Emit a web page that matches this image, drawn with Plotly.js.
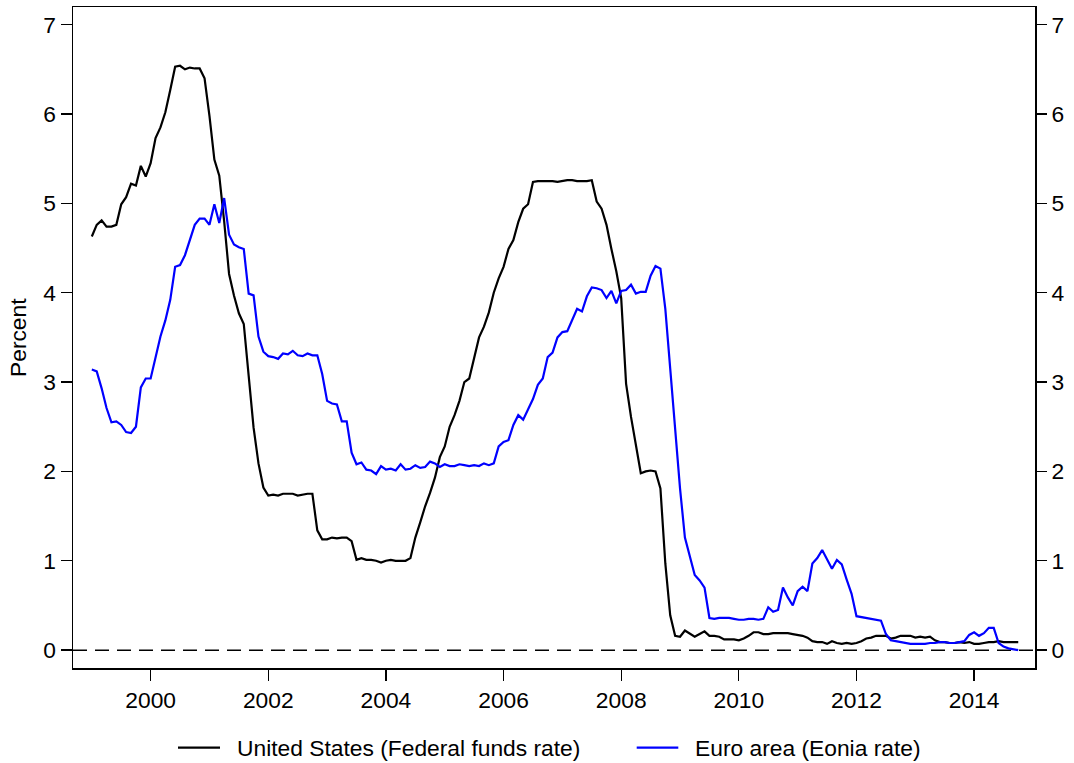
<!DOCTYPE html>
<html>
<head>
<meta charset="utf-8">
<script src="https://cdn.plot.ly/plotly-3.0.1.min.js"></script>
<style>
  html, body { margin: 0; padding: 0; background: #fff; }
  #chart { width: 1074px; height: 763px; }
</style>
</head>
<body>
<div id="chart"></div>
<script>
// Monthly observations, January 1999 to October 2014
const startYear = 1999;
const usName = 'United States (Federal funds rate)';
const euName = 'Euro area (Eonia rate)';
const yTitle = 'Percent';
const xTickVals = [2000, 2002, 2004, 2006, 2008, 2010, 2012, 2014];
const yTickVals = [0, 1, 2, 3, 4, 5, 6, 7];

const fedFunds = [
  4.63, 4.76, 4.81, 4.74, 4.74, 4.76, 4.99, 5.07, 5.22, 5.20, 5.42, 5.30, // 1999
  5.45, 5.73, 5.85, 6.02, 6.27, 6.53, 6.54, 6.50, 6.52, 6.51, 6.51, 6.40, // 2000
  5.98, 5.49, 5.31, 4.80, 4.21, 3.97, 3.77, 3.65, 3.07, 2.49, 2.09, 1.82, // 2001
  1.73, 1.74, 1.73, 1.75, 1.75, 1.75, 1.73, 1.74, 1.75, 1.75, 1.34, 1.24, // 2002
  1.24, 1.26, 1.25, 1.26, 1.26, 1.22, 1.01, 1.03, 1.01, 1.01, 1.00, 0.98, // 2003
  1.00, 1.01, 1.00, 1.00, 1.00, 1.03, 1.26, 1.43, 1.61, 1.76, 1.93, 2.16, // 2004
  2.28, 2.50, 2.63, 2.79, 3.00, 3.04, 3.26, 3.50, 3.62, 3.78, 4.00, 4.16, // 2005
  4.29, 4.49, 4.59, 4.79, 4.94, 4.99, 5.24, 5.25, 5.25, 5.25, 5.25, 5.24, // 2006
  5.25, 5.26, 5.26, 5.25, 5.25, 5.25, 5.26, 5.02, 4.94, 4.76, 4.49, 4.24, // 2007
  3.94, 2.98, 2.61, 2.28, 1.98, 2.00, 2.01, 2.00, 1.81, 0.97, 0.39, 0.16, // 2008
  0.15, 0.22, 0.18, 0.15, 0.18, 0.21, 0.16, 0.16, 0.15, 0.12, 0.12, 0.12, // 2009
  0.11, 0.13, 0.16, 0.20, 0.20, 0.18, 0.18, 0.19, 0.19, 0.19, 0.19, 0.18, // 2010
  0.17, 0.16, 0.14, 0.10, 0.09, 0.09, 0.07, 0.10, 0.08, 0.07, 0.08, 0.07, // 2011
  0.08, 0.10, 0.13, 0.14, 0.16, 0.16, 0.16, 0.13, 0.14, 0.16, 0.16, 0.16, // 2012
  0.14, 0.15, 0.14, 0.15, 0.11, 0.09, 0.09, 0.08, 0.08, 0.09, 0.08, 0.09, // 2013
  0.07, 0.07, 0.08, 0.09, 0.09, 0.10, 0.09, 0.09, 0.09, 0.09              // 2014
];

const eonia = [
  3.14, 3.12, 2.93, 2.71, 2.55, 2.56, 2.52, 2.44, 2.43, 2.50, 2.94, 3.04, // 1999
  3.04, 3.28, 3.51, 3.69, 3.92, 4.29, 4.31, 4.42, 4.59, 4.76, 4.83, 4.83, // 2000
  4.76, 4.99, 4.78, 5.06, 4.65, 4.54, 4.51, 4.49, 3.99, 3.97, 3.51, 3.34, // 2001
  3.29, 3.28, 3.26, 3.32, 3.31, 3.35, 3.30, 3.29, 3.32, 3.30, 3.30, 3.09, // 2002
  2.79, 2.76, 2.75, 2.56, 2.56, 2.21, 2.08, 2.10, 2.02, 2.01, 1.97, 2.06, // 2003
  2.02, 2.03, 2.01, 2.08, 2.02, 2.03, 2.07, 2.04, 2.05, 2.11, 2.09, 2.05, // 2004
  2.08, 2.06, 2.06, 2.08, 2.07, 2.06, 2.07, 2.06, 2.09, 2.07, 2.09, 2.28, // 2005
  2.33, 2.35, 2.52, 2.63, 2.58, 2.70, 2.81, 2.97, 3.04, 3.28, 3.33, 3.50, // 2006
  3.56, 3.57, 3.69, 3.82, 3.79, 3.96, 4.06, 4.05, 4.03, 3.94, 4.02, 3.88, // 2007
  4.02, 4.03, 4.09, 3.99, 4.01, 4.01, 4.19, 4.30, 4.27, 3.82, 3.15, 2.49, // 2008
  1.81, 1.26, 1.06, 0.84, 0.78, 0.70, 0.36, 0.35, 0.36, 0.36, 0.36, 0.35, // 2009
  0.34, 0.34, 0.35, 0.35, 0.34, 0.35, 0.48, 0.43, 0.45, 0.70, 0.59, 0.50, // 2010
  0.66, 0.71, 0.66, 0.97, 1.03, 1.12, 1.01, 0.91, 1.01, 0.96, 0.79, 0.63, // 2011
  0.38, 0.37, 0.36, 0.35, 0.34, 0.33, 0.18, 0.11, 0.10, 0.09, 0.08, 0.07, // 2012
  0.07, 0.07, 0.07, 0.08, 0.08, 0.09, 0.09, 0.08, 0.08, 0.09, 0.10, 0.17, // 2013
  0.20, 0.16, 0.19, 0.25, 0.25, 0.08, 0.04, 0.02, 0.01, 0.00              // 2014
];

// month positions as decimal years
const months = fedFunds.map((_, i) => startYear + i / 12);

const FONT = 'Liberation Sans, Arial, Helvetica, sans-serif';
const FS = 22.8;

const traces = [
  { x: months, y: fedFunds, name: usName, type: 'scatter', mode: 'lines',
    line: { color: '#000000', width: 2.2 }, hoverinfo: 'x+y' },
  { x: months, y: eonia, name: euName, type: 'scatter', mode: 'lines',
    line: { color: '#0000ff', width: 2.2 }, hoverinfo: 'x+y' },
  { x: [null], y: [null], yaxis: 'y2', type: 'scatter', mode: 'lines',
    showlegend: false, hoverinfo: 'skip' }
];

const W = 1074, H = 763;
const mL = 73, mR = 39, mT = 7, mB = 95;
const pw = W - mL - mR, ph = H - mT - mB;
const px = v => (v - mL) / pw;
const py = v => (H - mB - v) / ph;

const yRange = [-0.2, 7.198];

const axisCommon = {
  showgrid: false, zeroline: false,
  ticks: 'outside', ticklen: 11, tickwidth: 1.3, tickcolor: '#000',
  tickfont: { family: FONT, size: FS, color: '#000' }
};

const legendY = py(747.7);

const layout = {
  width: W, height: H,
  margin: { l: mL, r: mR, t: mT, b: mB, pad: 0 },
  paper_bgcolor: '#fff', plot_bgcolor: '#fff',
  font: { family: FONT, size: FS, color: '#000' },
  showlegend: false,
  xaxis: Object.assign({}, axisCommon, {
    range: [1998.68, 2015.035], tickmode: 'array', tickvals: xTickVals,
    ticktext: xTickVals.map(String),
    showline: true, linecolor: '#000', linewidth: 1.5, mirror: true
  }),
  yaxis: Object.assign({}, axisCommon, {
    range: yRange, tickmode: 'array', tickvals: yTickVals,
    showline: true, linecolor: '#000', linewidth: 1.5, mirror: true
  }),
  yaxis2: Object.assign({}, axisCommon, {
    range: yRange, tickmode: 'array', tickvals: yTickVals,
    overlaying: 'y', side: 'right', anchor: 'x', showline: false
  }),
  shapes: [
    { type: 'line', xref: 'paper', x0: 0, x1: 1, yref: 'y', y0: 0, y1: 0,
      line: { color: '#000', width: 1.5, dash: '14px,8px' }, layer: 'below' },
    { type: 'line', xref: 'paper', yref: 'paper', x0: px(178), x1: px(220), y0: legendY, y1: legendY,
      line: { color: '#000', width: 2.2 } },
    { type: 'line', xref: 'paper', yref: 'paper', x0: px(636.7), x1: px(678.3), y0: legendY, y1: legendY,
      line: { color: '#0000ff', width: 2.2 } }
  ],
  annotations: [
    { text: yTitle, xref: 'paper', yref: 'paper', x: px(17.5), y: 0.5, textangle: -90,
      xanchor: 'center', yanchor: 'middle', showarrow: false,
      font: { family: FONT, size: FS, color: '#000' } },
    { text: usName, xref: 'paper', yref: 'paper', x: px(235), y: legendY,
      xanchor: 'left', yanchor: 'middle', showarrow: false,
      font: { family: FONT, size: FS, color: '#000' } },
    { text: euName, xref: 'paper', yref: 'paper', x: px(693), y: legendY,
      xanchor: 'left', yanchor: 'middle', showarrow: false,
      font: { family: FONT, size: FS, color: '#000' } }
  ]
};

Plotly.newPlot('chart', traces, layout, { staticPlot: true, displayModeBar: false });
</script>
</body>
</html>
